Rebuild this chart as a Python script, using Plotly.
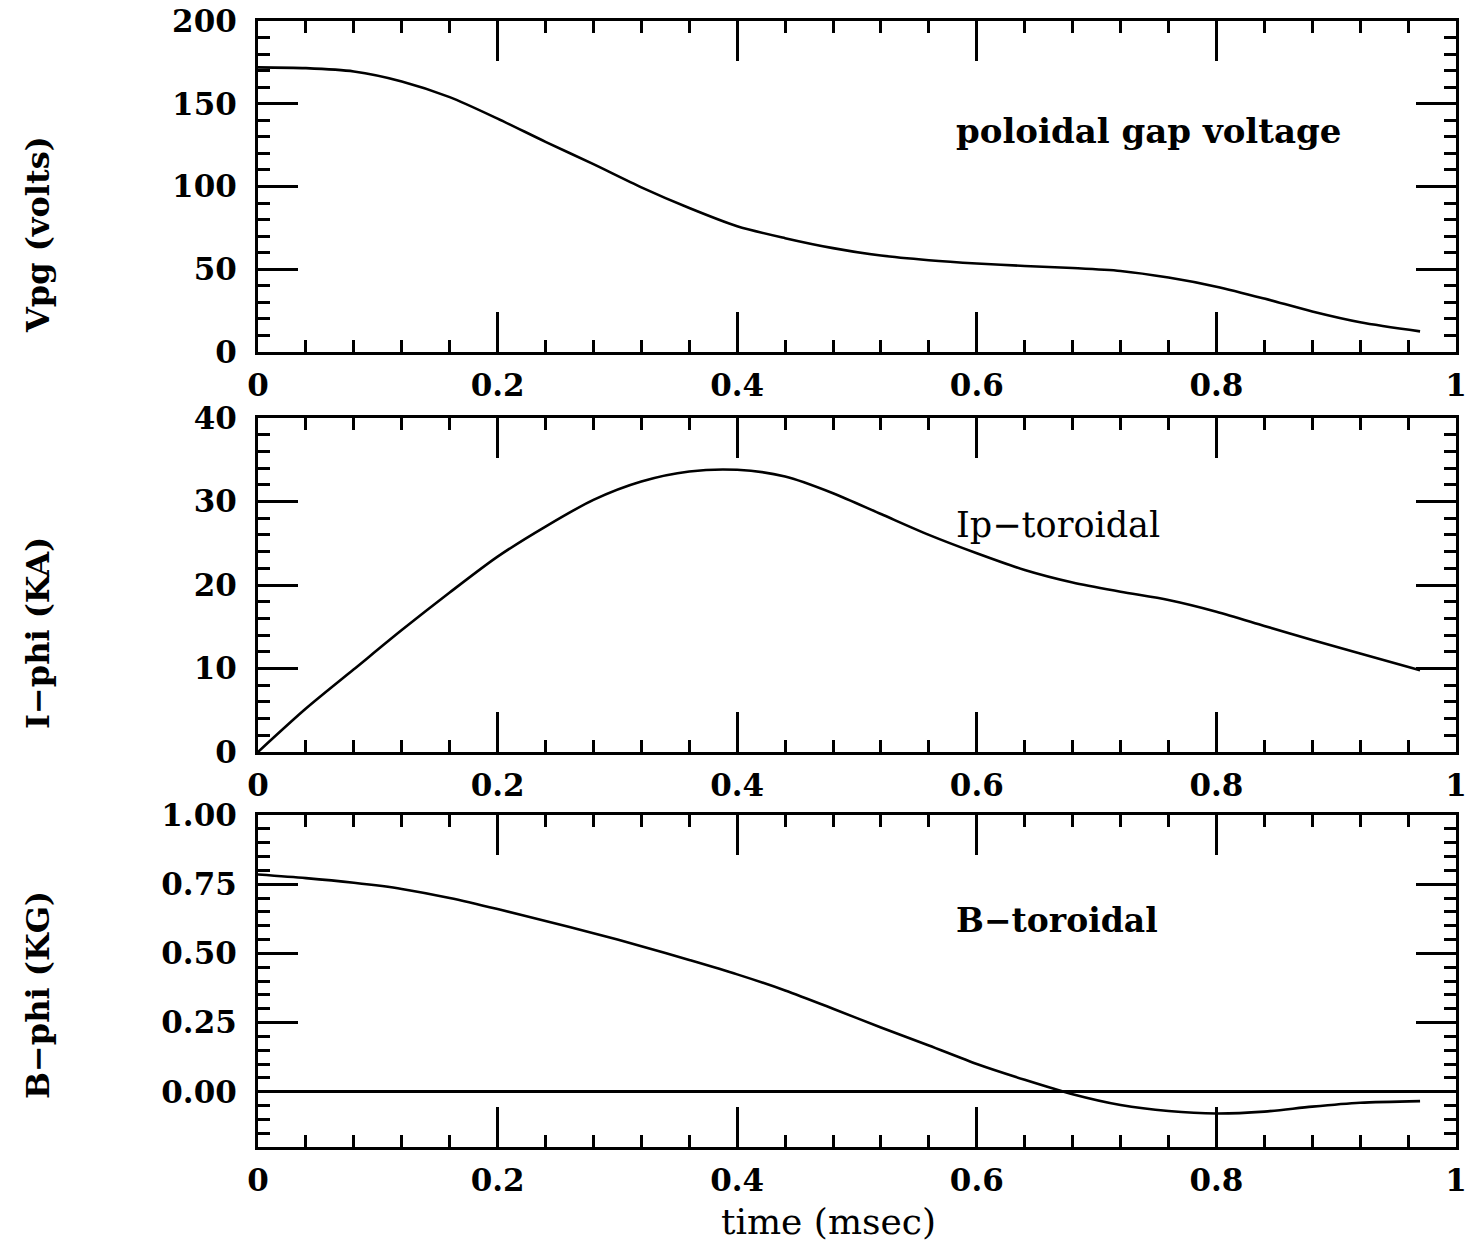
import plotly.graph_objects as go
from plotly.subplots import make_subplots

# time axis (msec), shared sampling for the three traces
time_ms = [0.00, 0.04, 0.08, 0.12, 0.16, 0.20, 0.24, 0.28, 0.32, 0.36, 0.40, 0.44,
           0.48, 0.52, 0.56, 0.60, 0.64, 0.68, 0.72, 0.76, 0.80, 0.84, 0.88, 0.92, 0.97]

# poloidal gap voltage (volts)
vpg_volts = [172, 171.5, 169.5, 163.5, 154, 141, 127, 113.5, 99.5, 87, 76, 68.8,
             62.8, 58.3, 55.5, 53.5, 52, 50.8, 49, 45, 39.5, 32.3, 24.5, 18, 12.5]

# toroidal current (KA)
iphi_ka = [0, 5.2, 9.9, 14.6, 19.1, 23.4, 27.0, 30.2, 32.4, 33.6, 33.8, 33.0,
           31.0, 28.5, 26.0, 23.8, 21.8, 20.3, 19.2, 18.2, 16.8, 15.1, 13.4, 11.8, 9.8]

# toroidal field (KG)
bphi_kg = [0.785, 0.772, 0.755, 0.733, 0.700, 0.660, 0.617, 0.573, 0.526, 0.476, 0.424, 0.366,
           0.300, 0.232, 0.167, 0.100, 0.043, -0.009, -0.048, -0.070, -0.079, -0.072, -0.054, -0.040, -0.034]

x_ticks = [0, 0.2, 0.4, 0.6, 0.8, 1.0]
x_ticktext = ["0", "0.2", "0.4", "0.6", "0.8", "1"]
vpg_ticks = [0, 50, 100, 150, 200]
iphi_ticks = [0, 10, 20, 30, 40]
bphi_ticks = [0.00, 0.25, 0.50, 0.75, 1.00]

panel_labels = ["poloidal gap voltage", "Ip\u2212toroidal", "B\u2212toroidal"]
y_titles = ["Vpg (volts)", "I\u2212phi (KA)", "B\u2212phi (KG)"]
x_title = "time (msec)"

SERIF = "DejaVu Serif"
INK = "black"

fig = make_subplots(rows=3, cols=1, shared_xaxes=False, vertical_spacing=0.0)

series = [vpg_volts, iphi_ka, bphi_kg]
for i, ys in enumerate(series, start=1):
    fig.add_trace(go.Scatter(x=time_ms, y=ys, mode="lines",
                             line=dict(color=INK, width=2.6, shape="spline", smoothing=0.8),
                             showlegend=False, hoverinfo="skip"), row=i, col=1)

# panel placement on the page
domains = [(0.706, 1.0), (0.3508, 0.6474), (0.0, 0.2948)]
y_specs = [
    dict(range=[0, 200], tickvals=vpg_ticks, ticktext=[str(v) for v in vpg_ticks], minor_dtick=10),
    dict(range=[0, 40], tickvals=iphi_ticks, ticktext=[str(v) for v in iphi_ticks], minor_dtick=2),
    dict(range=[-0.2, 1.0], tickvals=bphi_ticks, ticktext=["%.2f" % v for v in bphi_ticks], minor_dtick=0.05),
]

tick_font = dict(family=SERIF, size=31, color=INK, weight="bold")
for i in range(3):
    xa = "xaxis" if i == 0 else "xaxis%d" % (i + 1)
    ya = "yaxis" if i == 0 else "yaxis%d" % (i + 1)
    fig.layout[xa].update(
        range=[0, 1], tickmode="array", tickvals=x_ticks, ticktext=x_ticktext,
        ticks="inside", ticklen=40, tickwidth=2.5, tickcolor=INK,
        minor=dict(ticks="inside", ticklen=12, tickwidth=2.5, tickcolor=INK, dtick=0.04, tick0=0, showgrid=False),
        showline=True, linewidth=3, linecolor=INK, mirror="ticks",
        showgrid=False, zeroline=False, tickfont=tick_font, ticklabelstandoff=4,
        ticklabeloverflow="allow", automargin=False,
    )
    spec = y_specs[i]
    fig.layout[ya].update(
        domain=list(domains[i]), range=spec["range"], tickmode="array",
        tickvals=spec["tickvals"], ticktext=spec["ticktext"],
        ticks="inside", ticklen=40, tickwidth=2.5, tickcolor=INK,
        minor=dict(ticks="inside", ticklen=12, tickwidth=2.5, tickcolor=INK,
                   dtick=spec["minor_dtick"], tick0=0, showgrid=False),
        showline=True, linewidth=3, linecolor=INK, mirror="ticks",
        showgrid=False, zeroline=(i == 2), zerolinecolor=INK, zerolinewidth=2.5,
        tickfont=tick_font, ticklabelstandoff=12, automargin=False,
    )

annotations = []
# in-panel labels
label_pos = [(0.581, 133.7, "x", "y"), (0.581, 27.2, "x2", "y2"), (0.581, 0.62, "x3", "y3")]
label_style = [(34, "bold"), (35, "normal"), (33, "bold")]
for (lx, ly, xr, yr), txt, (sz, wt) in zip(label_pos, panel_labels, label_style):
    annotations.append(dict(x=lx, y=ly, xref=xr, yref=yr, text=txt, showarrow=False,
                            xanchor="left", yanchor="middle",
                            font=dict(family=SERIF, size=sz, color=INK, weight=wt)))

# y-axis titles
for txt, py in zip(y_titles, [0.810, 0.4565, 0.135]):
    annotations.append(dict(x=-0.1836, y=py, xref="paper", yref="paper", text=txt,
                            showarrow=False, textangle=-90, xanchor="center", yanchor="middle",
                            font=dict(family=SERIF, size=32, color=INK, weight="bold")))

# x-axis title
annotations.append(dict(x=0.476, y=-0.0666, xref="paper", yref="paper", text=x_title,
                        showarrow=False, xanchor="center", yanchor="middle",
                        font=dict(family=SERIF, size=36, color=INK)))

fig.update_layout(
    width=1466, height=1247,
    margin=dict(l=258, r=10, t=21, b=100, autoexpand=False),
    paper_bgcolor="white", plot_bgcolor="white",
    annotations=annotations,
    font=dict(family=SERIF, color=INK),
)

fig.write_html("out.html")
